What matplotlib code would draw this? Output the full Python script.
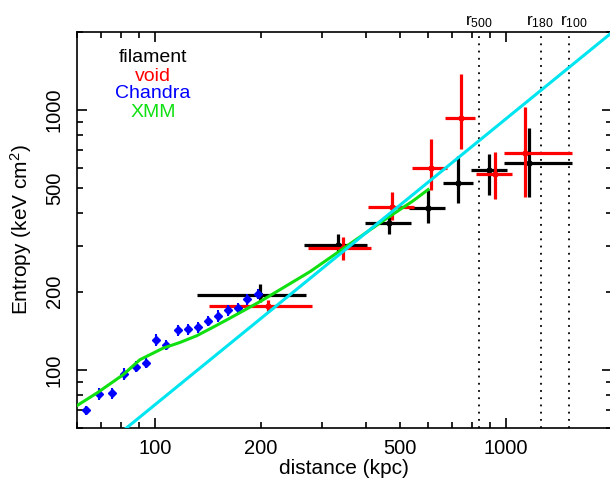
import matplotlib
matplotlib.use('Agg')
import matplotlib.pyplot as plt
from matplotlib.ticker import FixedLocator, FuncFormatter
import matplotlib.transforms as mtransforms

plt.rcParams['font.family'] = ['Liberation Sans', 'DejaVu Sans']
plt.rcParams['mathtext.default'] = 'regular'

# filament bins: radius (kpc) with bin edges, entropy (keV cm^2) with 1-sigma range
fil_r = [199, 333, 465, 600, 731, 897, 1165]
fil_r_lo = [132, 265, 397, 528, 660, 794, 989]
fil_r_hi = [269, 403, 535, 670, 804, 1005, 1539]
fil_K = [195, 303, 366, 419, 522, 589, 628]
fil_K_lo = [182, 281, 332, 369, 437, 472, 461]
fil_K_hi = [215, 334, 386, 493, 666, 680, 851]

# void bins
void_r = [210, 343, 473, 610, 743, 930, 1130]
void_r_lo = [143, 273, 405, 539, 670, 822, 989]
void_r_hi = [280, 412, 547, 678, 816, 1038, 1545]
void_K = [176, 294, 425, 598, 929, 567, 686]
void_K_lo = [167, 265, 378, 492, 707, 455, 461]
void_K_hi = [186, 324, 482, 772, 1378, 690, 1027]

# Chandra profile
chan_r = [63.6, 69.3, 75.4, 81.8, 88.1, 94.1, 100.5, 107.3, 116.3, 124.4,
          132.9, 141.6, 150.8, 161.4, 172.0, 183.2, 196.2]
chan_K = [70.0, 80.9, 81.3, 96.8, 103.0, 106.7, 130.3, 125.0, 142.3, 143.9,
          146.1, 154.5, 161.5, 169.8, 172.9, 187.2, 196.2]
chan_err = [3, 4, 4, 5, 5, 5, 7, 6, 7, 7, 7, 7, 8, 8, 8, 9, 9]

# XMM profile
xmm_r = [60, 68.4, 81.2, 90.6, 105.6, 117.8, 131.5, 146.6, 163.6, 199.1,
         222.2, 276.4, 359.4, 447.1, 544.5, 600]
xmm_K = [73.0, 81.6, 95.9, 109.5, 121.4, 127.6, 135.4, 146.2, 158.3, 183.2,
         200.1, 238.8, 305.5, 375.3, 447.9, 494]

# baseline K ~ r^1.1, end points
base_r = [60, 2000]
base_K = [41.9, 1983]

# characteristic radii (kpc), label nudges in points
r_names = ['500', '180', '100']
r_vals = [835, 1260, 1515]
r_nudge = [0, -1, 3]

fig = plt.figure(figsize=(6.1, 4.82), dpi=100)
ax = fig.add_axes([77 / 610, 1 - 427.7 / 482, (611.7 - 77) / 610, (427.7 - 31.7) / 482])
ax.set_xscale('log')
ax.set_yscale('log')


def asym(v, lo, hi):
    return [[a - b for a, b in zip(v, lo)], [c - a for a, c in zip(v, hi)]]


ax.errorbar(fil_r, fil_K, xerr=asym(fil_r, fil_r_lo, fil_r_hi),
            yerr=asym(fil_K, fil_K_lo, fil_K_hi), fmt='o', color='black',
            ms=3.5, elinewidth=2.3, capsize=0, zorder=2)
ax.errorbar(void_r, void_K, xerr=asym(void_r, void_r_lo, void_r_hi),
            yerr=asym(void_K, void_K_lo, void_K_hi), fmt='o', color='red',
            ms=3.5, elinewidth=2.3, capsize=0, zorder=3)
ax.errorbar(chan_r, chan_K, yerr=chan_err, fmt='D', color='blue', ms=4,
            elinewidth=1.5, capsize=0, zorder=4)
ax.plot(xmm_r, xmm_K, color='#10e010', lw=2.2, zorder=5)
ax.plot(base_r, base_K, color='#00e5f0', lw=2.2, zorder=6)

trans = mtransforms.blended_transform_factory(ax.transData, ax.transAxes)
for name, rv, dx in zip(r_names, r_vals, r_nudge):
    ax.axvline(rv, color='black', ls=(0, (1, 3)), lw=1.3, zorder=1)
    ax.annotate('r$_{%s}$' % name, xy=(rv, 1.004), xycoords=trans,
                xytext=(dx, 0), textcoords='offset points', ha='center',
                va='bottom', fontsize=12.5)

ax.set_xlim(60, 2000)
ax.set_ylim(60, 2000)

for axis in (ax.xaxis, ax.yaxis):
    axis.set_major_locator(FixedLocator([100, 1000]))
    axis.set_minor_locator(FixedLocator([60, 70, 80, 90, 200, 300, 400, 500,
                                         600, 700, 800, 900, 2000]))
    axis.set_major_formatter(FuncFormatter(lambda v, p: '%d' % v))
    axis.set_minor_formatter(FuncFormatter(lambda v, p: '%d' % v if v in (200, 500) else ''))

ax.tick_params(which='both', direction='in', top=True, right=True,
               labelsize=14.5, width=1.2)
ax.tick_params(which='major', length=7)
ax.tick_params(which='minor', length=4)
ax.tick_params(axis='x', which='both', pad=8)
ax.tick_params(axis='y', which='both', pad=9.5)
for lab in ax.get_yticklabels(which='both'):
    lab.set_rotation(90)
    lab.set_va('center')
for sp in ax.spines.values():
    sp.set_linewidth(1.2)

ax.set_xlabel('distance (kpc)', fontsize=15, labelpad=1)
ax.set_ylabel('Entropy (keV cm$^2$)', fontsize=15, labelpad=8)

ax.text(0.142, 0.924, 'filament', color='black', transform=ax.transAxes,
        ha='center', va='baseline', fontsize=14)
ax.text(0.142, 0.8755, 'void', color='red', transform=ax.transAxes,
        ha='center', va='baseline', fontsize=14)
ax.text(0.142, 0.8333, 'Chandra', color='blue', transform=ax.transAxes,
        ha='center', va='baseline', fontsize=14)
ax.text(0.142, 0.7854, 'XMM', color='#10e010', transform=ax.transAxes,
        ha='center', va='baseline', fontsize=14)

fig.savefig('out.png', dpi=100)
